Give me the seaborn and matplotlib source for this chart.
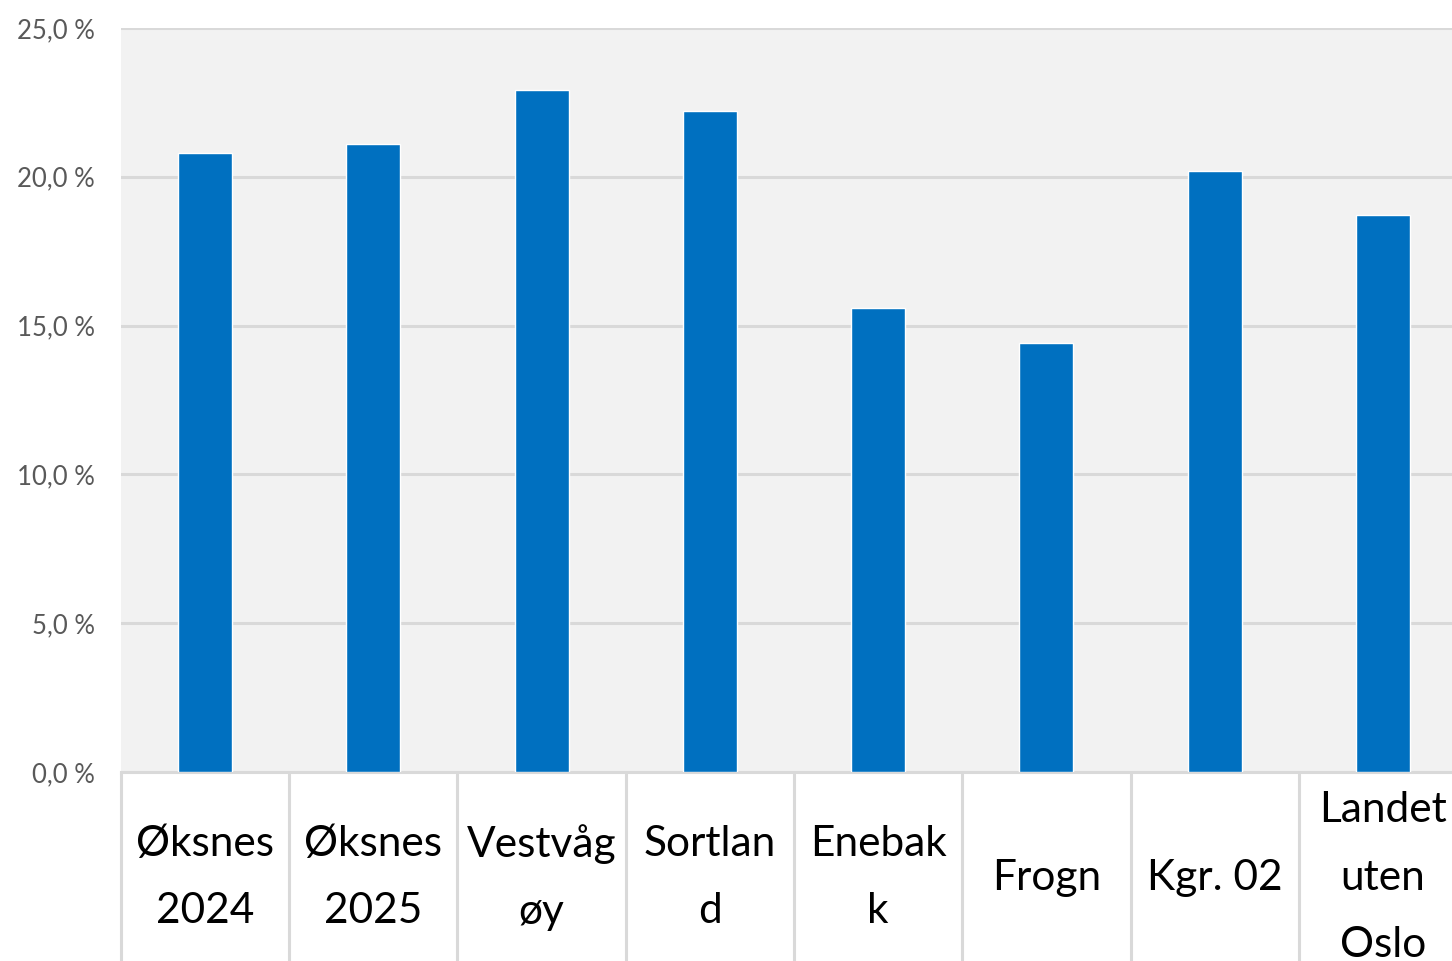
import matplotlib
matplotlib.use("Agg")
import matplotlib.pyplot as plt
import matplotlib.transforms as mtransforms
import seaborn as sns
import pandas as pd
from matplotlib.ticker import FuncFormatter

categories = ["Øksnes\n2024", "Øksnes\n2025", "Vestvåg\nøy", "Sortlan\nd",
              "Enebak\nk", "Frogn", "Kgr. 02", "Landet\nuten\nOslo"]
values = [20.8, 21.1, 22.9, 22.2, 15.6, 14.4, 20.2, 18.7]
yticks = [0, 5, 10, 15, 20, 25]

df = pd.DataFrame({"kategori": categories, "verdi": values})

sns.set_theme(style="white")
plt.rcParams["font.family"] = ["Lato", "DejaVu Sans"]

fig = plt.figure(figsize=(14.52, 9.61), dpi=100)
ax = fig.add_axes([121 / 1452, 189 / 961, 1346 / 1452, 744 / 961])
ax.set_facecolor("#F2F2F2")

sns.barplot(data=df, x="kategori", y="verdi", color="#0070C0", saturation=1,
            width=0.32, ax=ax, zorder=3)

ax.set_xlim(-0.5, len(categories) - 0.5)
ax.set_ylim(0, 25)
ax.set_yticks(yticks)
ax.yaxis.set_major_formatter(FuncFormatter(lambda v, p: f"{v:.1f}".replace(".", ",") + " %"))
ax.grid(axis="y", color="#D9D9D9", linewidth=2.2, zorder=0)
ax.grid(axis="x", visible=False)
ax.set_axisbelow(True)
for s in ["top", "right", "left"]:
    ax.spines[s].set_visible(False)
ax.spines["bottom"].set_color("#D9D9D9")
ax.spines["bottom"].set_linewidth(2.2)

ax.set_xlabel("")
ax.set_ylabel("")
ax.tick_params(axis="y", length=0, pad=19, labelsize=18.5, labelcolor="#595959")
ax.tick_params(axis="x", length=0, pad=76, labelsize=30.5, labelcolor="#000000")
for lab in ax.get_xticklabels():
    lab.set_va("center")
    lab.set_linespacing(1.95)

trans = mtransforms.blended_transform_factory(ax.transData, ax.transAxes)
for i in range(len(categories) + 1):
    ax.plot([i - 0.5, i - 0.5], [0, -0.3], transform=trans, color="#D9D9D9",
            linewidth=2.2, clip_on=False, zorder=1)

fig.savefig("out.png", dpi=100, facecolor="white")
